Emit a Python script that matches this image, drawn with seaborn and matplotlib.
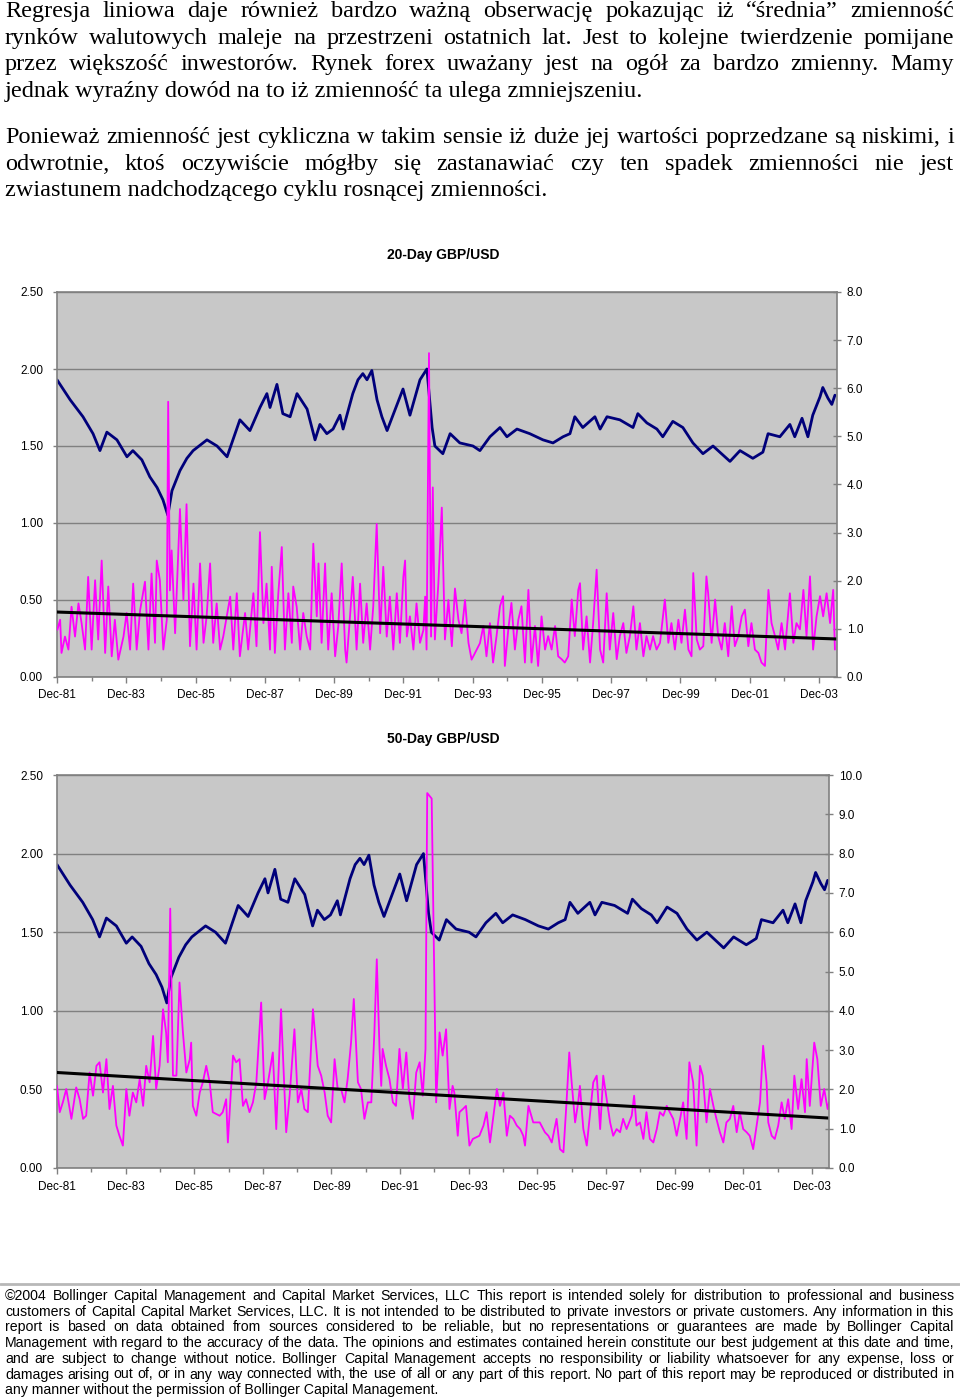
import numpy as np
import pandas as pd
import matplotlib
matplotlib.use("Agg")
import matplotlib.pyplot as plt
import seaborn as sns
from matplotlib import font_manager as fm
from matplotlib.ticker import FixedLocator, FixedFormatter

# ---------------- data ----------------
# GBP/USD spot (left axis), decimal years
price_t = [1981.92, 1982.30, 1982.67, 1982.96, 1983.16, 1983.36, 1983.65, 1983.94, 1984.11, 1984.37,
           1984.60, 1984.81, 1984.98, 1985.12, 1985.24, 1985.47, 1985.67, 1985.85, 1986.25, 1986.54,
           1986.83, 1987.20, 1987.49, 1987.78, 1987.98, 1988.07, 1988.27, 1988.44, 1988.65, 1988.85,
           1989.14, 1989.37, 1989.51, 1989.71, 1989.89, 1990.09, 1990.18, 1990.46, 1990.61, 1990.75,
           1990.87, 1991.01, 1991.16, 1991.30, 1991.45, 1991.62, 1991.91, 1992.11, 1992.40, 1992.60,
           1992.75, 1992.83, 1993.06, 1993.27, 1993.55, 1993.93, 1994.13, 1994.42, 1994.71, 1994.91,
           1995.20, 1995.57, 1995.95, 1996.24, 1996.53, 1996.73, 1996.87, 1997.10, 1997.45, 1997.60,
           1997.80, 1998.17, 1998.55, 1998.69, 1998.95, 1999.24, 1999.41, 1999.70, 1999.99, 2000.28,
           2000.57, 2000.86, 2001.35, 2001.64, 2002.01, 2002.30, 2002.45, 2002.79, 2003.08, 2003.22,
           2003.43, 2003.60, 2003.74, 2003.95, 2004.03, 2004.18, 2004.29, 2004.38]
price_v = [1.93, 1.80, 1.69, 1.58, 1.47, 1.59, 1.54, 1.43, 1.47, 1.41,
           1.30, 1.23, 1.15, 1.05, 1.21, 1.34, 1.42, 1.47, 1.54, 1.50,
           1.43, 1.67, 1.60, 1.75, 1.84, 1.75, 1.90, 1.71, 1.69, 1.84,
           1.74, 1.54, 1.64, 1.58, 1.61, 1.70, 1.61, 1.84, 1.93, 1.97,
           1.93, 1.99, 1.80, 1.69, 1.60, 1.70, 1.87, 1.70, 1.93, 2.00,
           1.62, 1.50, 1.45, 1.58, 1.52, 1.50, 1.47, 1.56, 1.62, 1.56,
           1.61, 1.58, 1.54, 1.52, 1.56, 1.58, 1.69, 1.62, 1.69, 1.61,
           1.69, 1.67, 1.62, 1.71, 1.65, 1.61, 1.56, 1.66, 1.62, 1.52,
           1.45, 1.50, 1.40, 1.47, 1.42, 1.46, 1.58, 1.56, 1.64, 1.56,
           1.68, 1.56, 1.70, 1.82, 1.88, 1.81, 1.77, 1.83]

# 20-day volatility (right axis)
vol20_t = [1981.93, 1982.01, 1982.05, 1982.15, 1982.25, 1982.34, 1982.44, 1982.54, 1982.63, 1982.73,
           1982.82, 1982.92, 1983.02, 1983.11, 1983.21, 1983.31, 1983.40, 1983.50, 1983.59, 1983.69,
           1983.84, 1983.93, 1984.03, 1984.12, 1984.22, 1984.32, 1984.46, 1984.56, 1984.65, 1984.75,
           1984.80, 1984.89, 1984.99, 1985.09, 1985.13, 1985.18, 1985.23, 1985.33, 1985.47, 1985.57,
           1985.66, 1985.76, 1985.86, 1985.95, 1986.05, 1986.15, 1986.24, 1986.34, 1986.43, 1986.53,
           1986.63, 1986.72, 1986.92, 1987.01, 1987.11, 1987.20, 1987.35, 1987.44, 1987.59, 1987.68,
           1987.78, 1987.88, 1987.97, 1988.07, 1988.12, 1988.21, 1988.31, 1988.41, 1988.50, 1988.60,
           1988.70, 1988.74, 1988.84, 1988.94, 1989.03, 1989.13, 1989.23, 1989.32, 1989.42, 1989.47,
           1989.56, 1989.66, 1989.75, 1989.85, 1989.95, 1990.04, 1990.14, 1990.24, 1990.28, 1990.38,
           1990.46, 1990.57, 1990.67, 1990.76, 1990.86, 1990.96, 1991.05, 1991.15, 1991.25, 1991.34,
           1991.44, 1991.53, 1991.63, 1991.73, 1991.82, 1991.92, 1991.97, 1992.02, 1992.11, 1992.21,
           1992.30, 1992.40, 1992.50, 1992.55, 1992.59, 1992.66, 1992.72, 1992.77, 1992.83, 1992.93,
           1993.03, 1993.12, 1993.22, 1993.32, 1993.41, 1993.51, 1993.60, 1993.70, 1993.80, 1993.89,
           1993.99, 1994.13, 1994.23, 1994.32, 1994.42, 1994.51, 1994.61, 1994.71, 1994.80, 1994.85,
           1994.95, 1995.04, 1995.14, 1995.24, 1995.33, 1995.43, 1995.53, 1995.62, 1995.72, 1995.81,
           1995.91, 1996.01, 1996.10, 1996.20, 1996.30, 1996.39, 1996.49, 1996.58, 1996.68, 1996.78,
           1996.87, 1996.97, 1997.02, 1997.11, 1997.21, 1997.31, 1997.40, 1997.50, 1997.60, 1997.69,
           1997.79, 1997.88, 1997.98, 1998.08, 1998.17, 1998.27, 1998.36, 1998.46, 1998.56, 1998.65,
           1998.75, 1998.85, 1998.94, 1999.04, 1999.13, 1999.23, 1999.33, 1999.47, 1999.57, 1999.66,
           1999.76, 1999.86, 1999.95, 2000.05, 2000.15, 2000.24, 2000.29, 2000.39, 2000.48, 2000.58,
           2000.67, 2000.72, 2000.82, 2000.92, 2001.01, 2001.11, 2001.20, 2001.30, 2001.40, 2001.49,
           2001.59, 2001.69, 2001.78, 2001.88, 2001.97, 2002.07, 2002.17, 2002.26, 2002.36, 2002.46,
           2002.55, 2002.65, 2002.74, 2002.84, 2002.94, 2003.08, 2003.18, 2003.27, 2003.37, 2003.47,
           2003.56, 2003.66, 2003.75, 2003.85, 2003.95, 2004.04, 2004.14, 2004.24, 2004.33, 2004.38]
vol20_v = [0.98, 1.19, 0.50, 0.84, 0.57, 1.46, 0.84, 1.53, 1.12, 0.57,
           2.08, 0.57, 2.01, 0.78, 2.42, 0.50, 1.88, 0.43, 1.19, 0.36,
           0.84, 1.33, 0.57, 1.94, 0.57, 1.39, 1.98, 0.57, 2.15, 0.71,
           2.42, 2.01, 0.57, 1.19, 5.72, 1.80, 2.63, 0.91, 3.49, 1.60,
           3.59, 0.64, 1.94, 0.57, 2.36, 0.71, 1.26, 2.36, 0.71, 1.53,
           0.57, 0.84, 1.67, 0.57, 1.74, 0.43, 1.33, 0.57, 1.74, 0.64,
           3.01, 1.12, 1.94, 0.57, 2.29, 0.50, 1.74, 2.70, 0.57, 1.74,
           0.71, 1.88, 1.46, 0.57, 1.33, 0.84, 0.57, 2.77, 1.26, 2.36,
           0.71, 2.36, 0.57, 1.74, 0.43, 1.05, 2.36, 0.57, 0.30, 1.26,
           2.08, 0.57, 1.94, 0.71, 1.53, 0.57, 1.46, 3.18, 0.91, 2.29,
           0.84, 1.67, 0.57, 1.74, 0.71, 2.08, 2.42, 0.84, 1.26, 0.57,
           1.53, 0.71, 0.98, 1.67, 0.57, 6.73, 0.84, 3.94, 0.78, 1.94,
           3.52, 0.78, 1.60, 0.64, 1.84, 1.19, 0.91, 1.60, 0.71, 0.36,
           0.50, 0.70, 1.06, 0.43, 1.12, 0.30, 0.85, 1.47, 1.68, 0.23,
           0.99, 1.54, 0.57, 1.19, 1.47, 0.30, 1.81, 0.30, 1.06, 0.23,
           1.26, 0.57, 0.85, 0.57, 1.06, 0.43, 0.37, 0.30, 0.43, 1.61,
           0.85, 1.81, 1.95, 0.57, 1.26, 0.30, 1.12, 2.23, 0.57, 0.30,
           1.74, 0.57, 1.33, 0.37, 0.85, 1.12, 0.50, 0.85, 1.47, 0.57,
           1.12, 0.43, 0.85, 0.57, 0.85, 0.57, 0.71, 1.61, 0.71, 1.12,
           0.57, 1.19, 0.71, 1.40, 0.57, 0.43, 2.16, 0.78, 0.57, 0.64,
           2.09, 1.74, 0.71, 1.61, 0.85, 0.57, 1.12, 0.43, 1.47, 0.64,
           0.85, 1.26, 1.40, 0.64, 1.12, 0.57, 0.50, 0.30, 0.23, 1.81,
           1.12, 0.85, 0.57, 1.12, 0.57, 1.74, 0.71, 1.12, 0.99, 1.81,
           0.85, 2.09, 0.57, 1.26, 1.68, 1.26, 1.74, 1.12, 1.81, 0.57]

# 50-day volatility (right axis)
vol50_t = [1981.92, 1982.00, 1982.09, 1982.19, 1982.29, 1982.34, 1982.48, 1982.58, 1982.68, 1982.77,
           1982.87, 1982.97, 1983.07, 1983.16, 1983.26, 1983.36, 1983.45, 1983.55, 1983.65, 1983.74,
           1983.84, 1983.94, 1984.03, 1984.13, 1984.23, 1984.33, 1984.43, 1984.52, 1984.62, 1984.72,
           1984.81, 1984.91, 1985.01, 1985.10, 1985.15, 1985.22, 1985.30, 1985.40, 1985.49, 1985.59,
           1985.69, 1985.79, 1985.83, 1985.88, 1985.98, 1986.08, 1986.17, 1986.27, 1986.37, 1986.46,
           1986.66, 1986.75, 1986.85, 1986.90, 1987.05, 1987.14, 1987.24, 1987.34, 1987.43, 1987.53,
           1987.63, 1987.73, 1987.87, 1987.97, 1988.07, 1988.21, 1988.31, 1988.45, 1988.60, 1988.70,
           1988.84, 1988.94, 1989.04, 1989.13, 1989.23, 1989.38, 1989.52, 1989.62, 1989.72, 1989.81,
           1989.91, 1990.01, 1990.10, 1990.20, 1990.30, 1990.39, 1990.49, 1990.57, 1990.69, 1990.78,
           1990.88, 1990.98, 1991.08, 1991.17, 1991.24, 1991.32, 1991.37, 1991.41, 1991.51, 1991.61,
           1991.71, 1991.80, 1991.90, 1992.00, 1992.10, 1992.19, 1992.29, 1992.39, 1992.49, 1992.58,
           1992.66, 1992.71, 1992.84, 1992.97, 1993.07, 1993.16, 1993.26, 1993.36, 1993.45, 1993.50,
           1993.60, 1993.65, 1993.75, 1993.84, 1993.94, 1994.04, 1994.23, 1994.35, 1994.44, 1994.54,
           1994.64, 1994.74, 1994.83, 1994.93, 1995.03, 1995.12, 1995.22, 1995.32, 1995.42, 1995.51,
           1995.56, 1995.66, 1995.80, 1995.90, 1995.99, 1996.14, 1996.24, 1996.34, 1996.48, 1996.58,
           1996.68, 1996.77, 1996.85, 1996.92, 1997.02, 1997.11, 1997.16, 1997.26, 1997.36, 1997.45,
           1997.55, 1997.65, 1997.75, 1997.84, 1997.94, 1998.04, 1998.13, 1998.23, 1998.33, 1998.42,
           1998.52, 1998.67, 1998.74, 1998.81, 1998.91, 1999.01, 1999.10, 1999.20, 1999.30, 1999.40,
           1999.49, 1999.59, 1999.69, 1999.78, 1999.88, 1999.98, 2000.08, 2000.17, 2000.27, 2000.35,
           2000.46, 2000.56, 2000.66, 2000.74, 2000.85, 2000.95, 2001.05, 2001.14, 2001.24, 2001.34,
           2001.43, 2001.53, 2001.63, 2001.73, 2001.82, 2001.92, 2002.02, 2002.11, 2002.21, 2002.31,
           2002.41, 2002.50, 2002.60, 2002.65, 2002.75, 2002.84, 2002.94, 2003.04, 2003.13, 2003.23,
           2003.33, 2003.41, 2003.52, 2003.62, 2003.72, 2003.77, 2003.86, 2003.99, 2004.08, 2004.18,
           2004.28, 2004.38, 2004.42]
vol50_v = [2.09, 1.42, 1.67, 2.01, 1.50, 1.25, 2.05, 1.75, 1.25, 1.33,
           2.43, 1.84, 2.60, 2.69, 1.92, 2.77, 1.50, 2.09, 1.08, 0.82,
           0.57, 2.01, 1.33, 1.92, 1.67, 2.26, 1.58, 2.60, 2.18, 3.36,
           2.01, 2.60, 4.04, 3.45, 2.69, 6.60, 2.35, 2.35, 4.72, 3.45,
           2.43, 2.77, 3.19, 1.58, 1.33, 1.92, 2.18, 2.60, 2.18, 1.42,
           1.33, 1.42, 1.75, 0.65, 2.86, 2.69, 2.77, 1.58, 1.75, 1.42,
           1.67, 2.18, 4.21, 1.75, 2.18, 2.94, 0.99, 4.04, 0.91, 1.84,
           3.53, 1.67, 2.01, 1.50, 1.42, 4.04, 2.60, 2.35, 1.92, 1.33,
           1.16, 2.77, 2.01, 2.01, 1.67, 2.26, 3.19, 4.30, 2.18, 2.01,
           1.25, 1.67, 1.67, 3.45, 5.31, 3.03, 2.09, 3.03, 2.60, 2.26,
           1.67, 1.58, 3.03, 2.01, 2.94, 1.75, 1.25, 2.43, 2.69, 1.84,
           3.03, 9.54, 9.40, 1.67, 3.45, 2.86, 3.53, 1.50, 2.09, 1.92,
           0.82, 1.42, 1.50, 1.58, 0.57, 0.74, 0.82, 1.08, 1.42, 0.65,
           1.33, 2.01, 1.58, 1.92, 0.82, 1.33, 1.25, 1.08, 0.99, 0.82,
           0.57, 1.58, 1.16, 1.16, 1.16, 0.91, 0.82, 0.65, 1.25, 0.48,
           0.40, 1.67, 2.94, 2.18, 1.16, 1.67, 2.09, 0.99, 0.57, 1.33,
           2.18, 2.35, 0.99, 2.35, 1.75, 1.16, 0.82, 0.99, 0.91, 1.25,
           0.99, 1.33, 1.84, 1.08, 1.16, 0.74, 1.42, 0.74, 0.65, 0.99,
           1.42, 1.33, 1.58, 1.42, 1.25, 0.82, 1.25, 1.67, 0.74, 2.69,
           2.18, 0.57, 2.60, 2.35, 1.16, 2.01, 1.58, 1.25, 0.91, 0.65,
           1.16, 1.25, 1.58, 0.91, 1.42, 0.99, 0.91, 0.82, 0.48, 1.08,
           1.67, 3.11, 2.18, 1.16, 0.82, 0.74, 1.08, 1.67, 1.25, 1.75,
           0.99, 2.35, 1.50, 2.26, 1.42, 2.77, 1.58, 3.19, 2.77, 1.58,
           2.01, 1.50, 1.67]

# regression (trend) lines, endpoints
trend20_t = [1981.92, 2004.44]
trend20_v = [1.35, 0.79]
trend50_t = [1981.92, 2004.42]
trend50_v = [2.43, 1.27]

# axes labels / ticks
titles = ["20-Day GBP/USD", "50-Day GBP/USD"]
x_major = [1981.92, 1983.92, 1985.92, 1987.92, 1989.92, 1991.92,
           1993.92, 1995.92, 1997.92, 1999.92, 2001.92, 2003.92]
x_minor = [1982.92, 1984.92, 1986.92, 1988.92, 1990.92, 1992.92,
           1994.92, 1996.92, 1998.92, 2000.92, 2002.92]
x_labels = ["Dec-81", "Dec-83", "Dec-85", "Dec-87", "Dec-89", "Dec-91",
            "Dec-93", "Dec-95", "Dec-97", "Dec-99", "Dec-01", "Dec-03"]
left_ticks = [0.0, 0.5, 1.0, 1.5, 2.0, 2.5]
left_labels = ["0.00", "0.50", "1.00", "1.50", "2.00", "2.50"]
right20_ticks = [0, 1, 2, 3, 4, 5, 6, 7, 8]
right50_ticks = [0, 1, 2, 3, 4, 5, 6, 7, 8, 9, 10]

para1 = ["Regresja liniowa daje również bardzo ważną obserwację pokazując iż “średnia” zmienność",
         "rynków walutowych maleje na przestrzeni ostatnich lat. Jest to kolejne twierdzenie pomijane",
         "przez większość inwestorów. Rynek forex uważany jest na ogół za bardzo zmienny. Mamy",
         "jednak wyraźny dowód na to iż zmienność ta ulega zmniejszeniu."]
para2 = ["Ponieważ zmienność jest cykliczna w takim sensie iż duże jej wartości poprzedzane są niskimi, i",
         "odwrotnie, ktoś oczywiście mógłby się zastanawiać czy ten spadek zmienności nie jest",
         "zwiastunem nadchodzącego cyklu rosnącej zmienności."]
footer = ["©2004 Bollinger Capital Management and Capital Market Services, LLC This report is intended solely for distribution to professional and business",
          "customers of Capital Capital Market Services, LLC. It is not intended to be distributed to private investors or private customers. Any information in this",
          "report is based on data obtained from sources considered to be reliable, but no representations or guarantees are made by Bollinger Capital",
          "Management with regard to the accuracy of the data. The opinions and estimates contained herein constitute our best judgement at this date and time,",
          "and are subject to change without notice. Bollinger Capital Management accepts no responsibility or liability whatsoever for any expense, loss or",
          "damages arising out of, or in any way connected with, the use of all or any part of this report. No part of this report may be reproduced or distributed in",
          "any manner without the permission of Bollinger Capital Management."]

# ---------------- figure ----------------
W, H = 960, 1399
sns.set_theme(style="white")
plt.rcParams['font.family'] = ['Liberation Sans', 'DejaVu Sans']

fig = plt.figure(figsize=(W / 100, H / 100), dpi=100)
fig.patch.set_facecolor('white')

GRID = '#808080'


def draw_chart(px_left, px_right, px_top, px_bottom, title, title_base, vt, vv, tt, tv,
               rticks, xlim):
    rect = [px_left / W, 1 - px_bottom / H, (px_right - px_left) / W, (px_bottom - px_top) / H]
    ax = fig.add_axes(rect)
    ax.set_facecolor('#C8C8C8')
    ax2 = ax.twinx()
    ax.set_zorder(1)
    ax2.set_zorder(2)
    ax2.patch.set_visible(False)

    sns.lineplot(x=price_t, y=price_v, ax=ax, color='#00007A', lw=2.0,
                 estimator=None, sort=False, legend=False)
    sns.lineplot(x=vt, y=vv, ax=ax2, color='#FF00FF', lw=1.3,
                 estimator=None, sort=False, legend=False)
    sns.lineplot(x=tt, y=tv, ax=ax2, color='black', lw=2.2,
                 estimator=None, sort=False, legend=False)

    ax.set_xlim(*xlim)
    ax.set_ylim(0, 2.5)
    ax2.set_ylim(0, rticks[-1])
    ax.set_xlabel("")
    ax.set_ylabel("")
    ax2.set_ylabel("")

    ax.yaxis.set_major_locator(FixedLocator(left_ticks))
    ax.yaxis.set_major_formatter(FixedFormatter(left_labels))
    ax.yaxis.grid(True, color=GRID, lw=1.0)
    ax.xaxis.grid(False)
    ax.set_axisbelow(True)

    ax.xaxis.set_major_locator(FixedLocator(x_major))
    ax.xaxis.set_major_formatter(FixedFormatter(x_labels))
    ax.xaxis.set_minor_locator(FixedLocator(x_minor))

    ax2.yaxis.set_major_locator(FixedLocator(rticks))
    ax2.set_yticklabels([f"{r:.1f}" for r in rticks])

    ax.tick_params(axis='y', left=True, length=3, width=1, color=GRID,
                   labelsize=8.5, pad=7, labelcolor='black')
    ax.tick_params(axis='x', which='major', bottom=True, length=4, width=1, color=GRID,
                   labelsize=8.5, pad=5, labelcolor='black')
    ax.tick_params(axis='x', which='minor', bottom=True, length=3, width=1, color=GRID)
    ax2.tick_params(axis='y', right=True, direction='inout', length=6, width=1,
                    color=GRID, labelsize=8.5, pad=4, labelcolor='black')

    for s in ax.spines.values():
        s.set_color(GRID)
        s.set_linewidth(1.2)
    ax.spines['right'].set_visible(False)
    for k, s in ax2.spines.items():
        s.set_visible(k == 'right')
        s.set_color(GRID)
        s.set_linewidth(1.2)

    fig.text(443 / W, 1 - title_base / H, title, ha='center', va='baseline',
             fontsize=10, fontweight='bold', color='black')
    return ax, ax2


draw_chart(57, 837, 292, 677, titles[0], 259, vol20_t, vol20_v, trend20_t, trend20_v,
           right20_ticks, (1981.92, 2004.44))
draw_chart(57, 829, 775, 1168, titles[1], 743, vol50_t, vol50_v, trend50_t, trend50_v,
           right50_ticks, (1981.92, 2004.42))

# ---------------- justified text ----------------
renderer = fig.canvas.get_renderer()


def text_line(s, x0, x1, yb, justify, **kw):
    if not justify:
        fig.text(x0 / W, 1 - yb / H, s, ha='left', va='baseline', **kw)
        return
    words = s.split(' ')
    arts = [fig.text(0, 1 - yb / H, w, ha='left', va='baseline', **kw) for w in words]
    ws = [a.get_window_extent(renderer).width for a in arts]
    gap = (x1 - x0 - sum(ws)) / (len(words) - 1)
    x = x0
    for a, w in zip(arts, ws):
        a.set_x(x / W)
        x += w + gap


serif = dict(family=['Liberation Serif', 'DejaVu Serif'], fontsize=17.5, color='black')
for i, line in enumerate(para1):
    text_line(line, 5, 954, 17 + 26.7 * i, i < len(para1) - 1, **serif)
for i, line in enumerate(para2):
    text_line(line, 5, 954, 143 + 26.7 * i, i < len(para2) - 1, **serif)

names = {f.name for f in fm.fontManager.ttflist}
ffam = 'Liberation Sans Narrow' if 'Liberation Sans Narrow' in names else 'Liberation Sans'
foot = dict(family=[ffam, 'DejaVu Sans'], fontsize=10.2, color='black')
for i, line in enumerate(footer):
    text_line(line, 5, 954, 1300 + 15.7 * i, i < len(footer) - 1, **foot)

fig.add_artist(matplotlib.lines.Line2D([0, 1], [1 - 1284 / H, 1 - 1284 / H],
                                       transform=fig.transFigure, color='#B8B8B8', lw=2))

fig.savefig("out.png", dpi=100, facecolor='white')
